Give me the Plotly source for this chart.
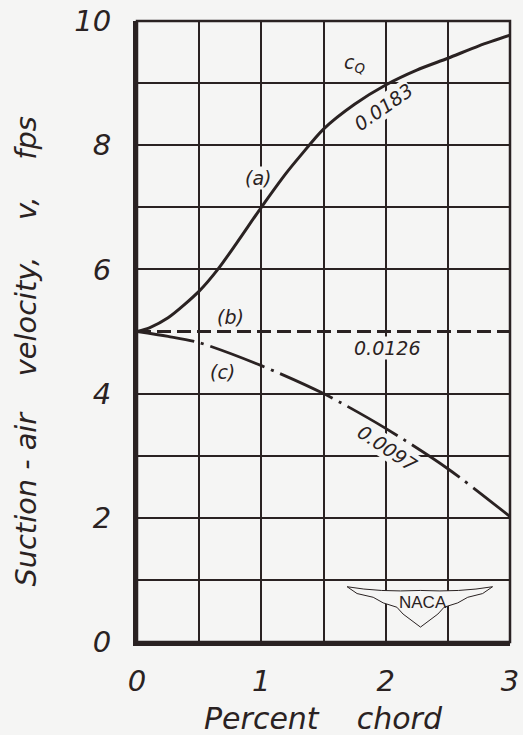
import plotly.graph_objects as go

# Data
x_a = [0.0, 0.1, 0.25, 0.5, 0.65, 0.8, 1.0, 1.2, 1.31, 1.5, 1.75, 2.0, 2.25, 2.5, 2.75, 3.0]
y_a = [5.0, 5.06, 5.22, 5.65, 6.0, 6.42, 7.0, 7.55, 7.82, 8.26, 8.66, 8.97, 9.21, 9.40, 9.60, 9.77]

x_b = [0.0, 3.0]
y_b = [5.0, 5.0]

x_c = [0.0, 0.25, 0.5, 1.0, 1.5, 2.0, 2.5, 3.0]
y_c = [5.0, 4.92, 4.82, 4.45, 4.0, 3.44, 2.79, 2.02]

x_ticks = [0, 1, 2, 3]
y_ticks = [0, 2, 4, 6, 8, 10]
x_minor = [0.5, 1.5, 2.5]
y_minor = [1, 3, 7, 9]   # the y=5 line is drawn by the dashed curve (b)

x_title = "Percent\u00a0\u00a0\u00a0\u00a0chord"
y_title = ("Suction\u00a0-\u00a0air\u00a0\u00a0\u00a0\u00a0velocity,\u00a0\u00a0\u00a0\u00a0v,"
           "\u00a0\u00a0\u00a0\u00a0fps")

ink = "#2a2222"
bg = "#f5f5f4"
font_fam = "DejaVu Sans, Liberation Sans, sans-serif"

fig = go.Figure()
fig.add_trace(go.Scatter(x=x_a, y=y_a, mode="lines",
                         line=dict(color=ink, width=3, shape="spline", smoothing=0.8), showlegend=False))
fig.add_trace(go.Scatter(x=x_b, y=y_b, mode="lines",
                         line=dict(color=ink, width=3, dash="14px,6px"), showlegend=False))
fig.add_trace(go.Scatter(x=x_c, y=y_c, mode="lines",
                         line=dict(color=ink, width=2.8, shape="spline", smoothing=0.8,
                                   dash="58px,7px,3px,7px"), showlegend=False))

ann_font = dict(family=font_fam, size=19, color=ink, style="italic")
labels = [
    ("c<sub>Q</sub>", 1.75, 9.32, 0),
    ("0.0183", 1.98, 8.62, -35),
    ("(a)", 0.97, 7.47, 0),
    ("(b)", 0.75, 5.24, 0),
    ("0.0126", 2.01, 4.74, 0),
    ("(c)", 0.69, 4.35, 0),
    ("0.0097", 2.01, 3.12, 34),
]
for txt, xx, yy, ang in labels:
    fig.add_annotation(x=xx, y=yy, text=txt, showarrow=False, textangle=ang, font=ann_font,
                       bgcolor=bg, borderpad=0)

# NACA emblem (decorative)
wing = ("M 1.69 0.89 Q 1.95 0.80 2.28 0.83 Q 2.6 0.80 2.86 0.89 "
        "L 2.78 0.78 L 2.66 0.72 L 2.58 0.63 L 2.47 0.56 L 2.42 0.45 L 2.28 0.24 "
        "L 2.14 0.45 L 2.09 0.56 L 1.98 0.63 L 1.9 0.72 L 1.77 0.78 Z")
fig.add_shape(type="path", path=wing, line=dict(color=ink, width=1), fillcolor=bg, layer="above")
fig.add_annotation(x=2.30, y=0.64, text="NACA", showarrow=False,
                   font=dict(family="Liberation Sans, sans-serif", size=17, color=ink))

# plot frame: thinner top/right edges
fig.add_shape(type="rect", xref="x domain", yref="y domain", x0=0, x1=1, y0=0, y1=1,
              line=dict(color=ink, width=2.5), layer="above")

# axis titles
title_font = dict(family=font_fam, size=29, color=ink, style="italic")
fig.add_annotation(text=x_title, xref="paper", yref="paper", x=0.5, y=0,
                   yanchor="middle", yshift=-76, showarrow=False, font=dict(title_font, size=30))
fig.add_annotation(text=y_title, xref="paper", yref="paper", x=0, y=0.5, textangle=-90,
                   xanchor="center", yanchor="middle", xshift=-112, yshift=-20,
                   showarrow=False, font=dict(title_font, size=28.8))

tick_font = dict(family=font_fam, size=29, color=ink, style="italic")
fig.update_xaxes(range=[0, 3], tickvals=x_ticks, ticktext=[str(v) for v in x_ticks],
                 showgrid=True, gridcolor=ink, gridwidth=2,
                 minor=dict(tickvals=x_minor, showgrid=True, gridcolor=ink, gridwidth=2),
                 zeroline=False, showline=True, linecolor=ink, linewidth=4, automargin=False,
                 ticks="", tickfont=tick_font, ticklabelstandoff=10, ticklabeloverflow="allow")
fig.update_yaxes(range=[0, 10], tickvals=y_ticks, ticktext=[str(v) for v in y_ticks],
                 showgrid=True, gridcolor=ink, gridwidth=2,
                 minor=dict(tickvals=y_minor, showgrid=True, gridcolor=ink, gridwidth=2),
                 zeroline=False, showline=True, linecolor=ink, linewidth=4, automargin=False,
                 ticks="", tickfont=tick_font, ticklabelstandoff=16, ticklabeloverflow="allow")

fig.update_layout(width=523, height=735, margin=dict(l=137, r=13, t=21, b=93, autoexpand=False),
                  paper_bgcolor=bg, plot_bgcolor=bg)
fig.write_html("out.html", config={"displayModeBar": False},
               post_script="document.body.style.margin='0px';")
